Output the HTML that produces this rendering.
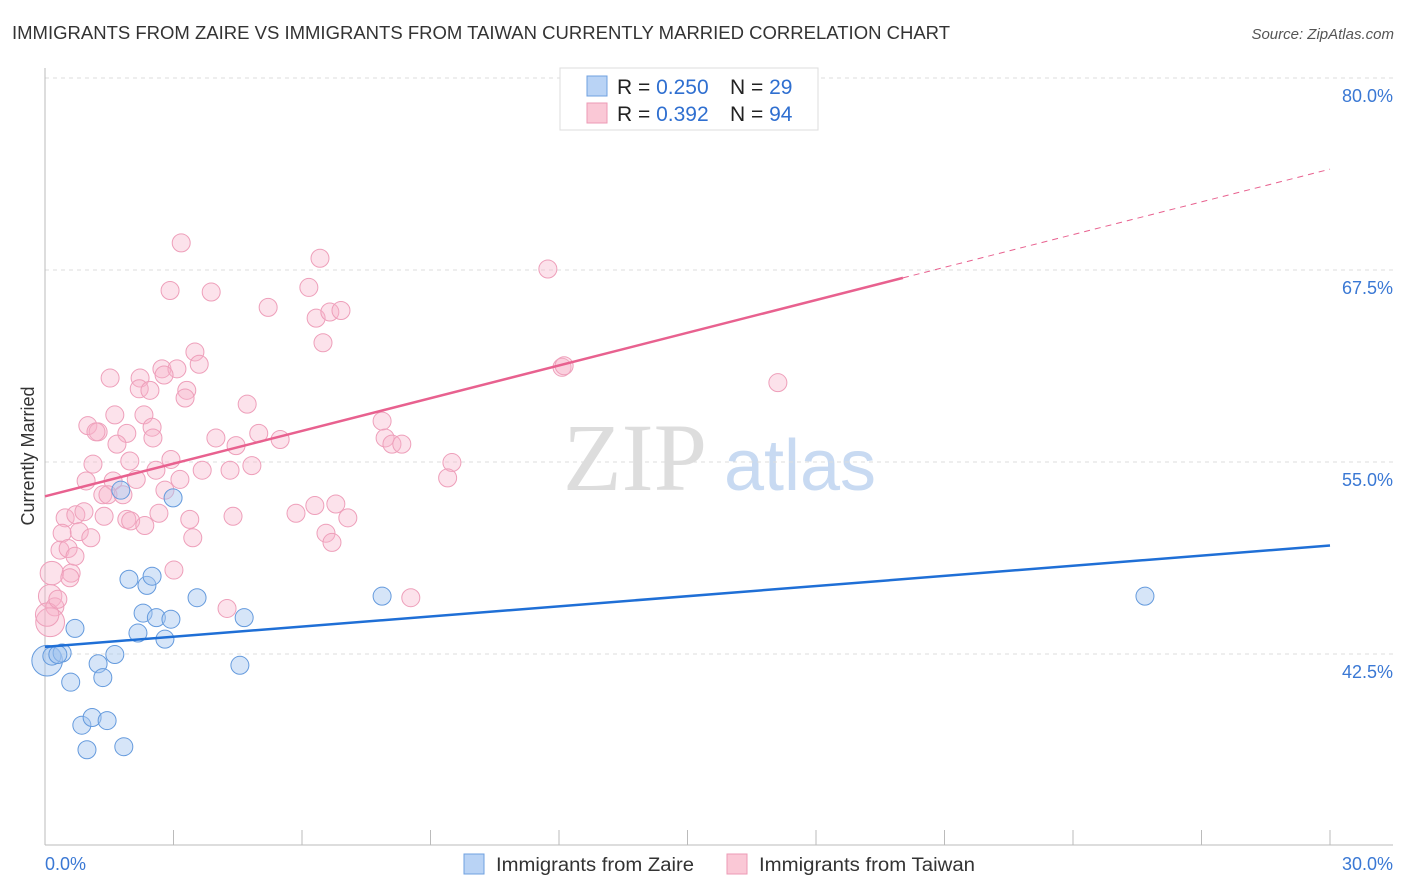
<!DOCTYPE html>
<html><head><meta charset="utf-8"><style>
body{margin:0;background:#fff;font-family:"Liberation Sans",sans-serif}
svg{display:block}
</style></head><body>
<svg id="chart" width="1406" height="892">
<text x="12" y="39" font-size="18" fill="#333" textLength="938" lengthAdjust="spacingAndGlyphs">IMMIGRANTS FROM ZAIRE VS IMMIGRANTS FROM TAIWAN CURRENTLY MARRIED CORRELATION CHART</text>
<text x="1394" y="39" font-size="15" fill="#555" font-style="italic" text-anchor="end">Source: ZipAtlas.com</text>
<text x="0" y="0" transform="translate(34,456) rotate(-90)" font-size="18" fill="#333" text-anchor="middle">Currently Married</text>
<g><text x="635" y="490" font-size="96" fill="#ddd" font-family="Liberation Serif,serif" text-anchor="middle">ZIP</text><text x="800" y="490" font-size="72" fill="#c8daf2" text-anchor="middle">atlas</text></g>
<g id="grid"></g><g id="axes"></g><g id="pts"></g><g id="lines"></g>
<g>
<rect x="560" y="68" width="258" height="62" fill="#fff" stroke="#ddd"/>
<rect x="587" y="76" width="20" height="20" fill="#b9d3f5" stroke="#6fa0e0"/>
<rect x="587" y="103" width="20" height="20" fill="#fac8d6" stroke="#ec9ab5"/>
<text x="617" y="94" font-size="21" fill="#222">R = <tspan fill="#2f6fd0">0.250</tspan></text>
<text x="730" y="94" font-size="21" fill="#222">N = <tspan fill="#2f6fd0">29</tspan></text>
<text x="617" y="121" font-size="21" fill="#222">R = <tspan fill="#2f6fd0"> 0.392</tspan></text>
<text x="730" y="121" font-size="21" fill="#222">N = <tspan fill="#2f6fd0">94</tspan></text>
</g>
<g>
<rect x="464" y="854" width="20" height="20" fill="#b9d3f5" stroke="#6fa0e0"/>
<text x="496" y="871" font-size="19" fill="#333" textLength="198" lengthAdjust="spacingAndGlyphs">Immigrants from Zaire</text>
<rect x="727" y="854" width="20" height="20" fill="#fac8d6" stroke="#ec9ab5"/>
<text x="759" y="871" font-size="19" fill="#333" textLength="216" lengthAdjust="spacingAndGlyphs">Immigrants from Taiwan</text>
</g>
</svg>
<script>
const yTicks=[80,67.5,55,42.5];
const xTickLabels=["0.0%","30.0%"];
const zaireX=[0.05,0.16,0.4,0.7,0.6,1.24,1.35,1.63,0.86,1.1,1.45,0.98,1.84,1.96,2.38,2.5,2.29,2.6,2.94,2.17,2.8,3.55,4.65,4.55,2.99,1.77,7.87,25.68,0.3];
const zaireY=[42.0,42.3,42.5,44.1,40.6,41.8,40.9,42.4,37.8,38.3,38.1,36.2,36.4,47.3,46.9,47.5,45.1,44.8,44.7,43.8,43.4,46.1,44.8,41.7,52.6,53.1,46.2,46.2,42.4];
const zaireW=[1.7,1,1,1,1,1,1,1,1,1,1,1,1,1,1,1,1,1,1,1,1,1,1,1,1,1,1,1,1];
const taiwanX=[3.18,2.92,3.88,5.21,6.42,6.16,6.33,6.65,6.91,6.49,11.74,3.5,3.6,2.73,3.08,2.78,1.52,2.22,3.31,2.2,2.45,3.27,4.72,1.63,2.31,1.0,1.24,1.19,1.91,2.5,2.52,1.68,3.99,4.46,4.99,5.49,7.87,7.94,8.1,8.33,12.07,12.12,17.11,1.12,1.98,2.94,2.59,3.67,4.32,4.83,0.96,1.59,2.13,3.15,2.8,1.35,1.47,1.82,9.5,9.4,0.47,0.72,0.91,1.38,1.91,2.0,2.66,2.33,3.38,4.39,5.86,6.3,6.79,7.07,6.56,6.7,0.4,0.8,1.07,0.35,0.54,3.45,0.16,0.61,0.58,3.01,0.12,0.23,0.12,4.25,8.54,0.05,0.3,0.7];
const taiwanY=[69.2,66.1,66.0,65.0,68.2,66.3,64.3,64.7,64.8,62.7,67.5,62.1,61.3,61.0,61.0,60.6,60.4,60.4,59.6,59.7,59.6,59.1,58.7,58.0,58.0,57.3,56.9,56.9,56.8,57.2,56.5,56.1,56.5,56.0,56.8,56.4,57.6,56.5,56.1,56.1,61.1,61.2,60.1,54.8,55.0,55.1,54.4,54.4,54.4,54.7,53.7,53.7,53.8,53.8,53.1,52.8,52.8,52.8,54.9,53.9,51.3,51.5,51.7,51.4,51.2,51.1,51.6,50.8,51.2,51.4,51.6,52.1,52.2,51.3,50.3,49.7,50.3,50.4,50.0,49.2,49.3,50.0,47.7,47.7,47.4,47.9,46.2,45.5,44.5,45.4,46.1,45.0,46.0,48.8];
const taiwanW=[1,1,1,1,1,1,1,1,1,1,1,1,1,1,1,1,1,1,1,1,1,1,1,1,1,1,1,1,1,1,1,1,1,1,1,1,1,1,1,1,1,1,1,1,1,1,1,1,1,1,1,1,1,1,1,1,1,1,1,1,1,1,1,1,1,1,1,1,1,1,1,1,1,1,1,1,1,1,1,1,1,1,1.3,1,1,1,1.3,1,1.6,1,1,1.3,1,1];
const zaireTrend=[42.9,49.5];
const taiwanTrend=[52.7,74.0];
const taiwanSolidEnd=20.03;
const NS="http://www.w3.org/2000/svg";
const X0=45,X1=1330,xs=v=>X0+(v/30)*(X1-X0);
const ys=v=>77+(80-v)*(192/12.5);
function mk(t,a,p){const e=document.createElementNS(NS,t);for(const k in a)e.setAttribute(k,a[k]);p.appendChild(e);return e;}
const grid=document.getElementById('grid'),axes=document.getElementById('axes'),pts=document.getElementById('pts'),lines=document.getElementById('lines');
yTicks.forEach(v=>{
const l=mk('line',{x1:45,x2:1393,y1:ys(v)+1,y2:ys(v)+1,stroke:'#ddd','stroke-dasharray':'4,4'},grid);


const t=mk('text',{x:1393,y:ys(v)+25,'font-size':18,fill:'#3a78d4','text-anchor':'end'},grid);
t.textContent=v.toFixed(1)+'%';


});
mk('line',{x1:45,x2:45,y1:68,y2:845,stroke:'#bbb'},axes);
mk('line',{x1:45,x2:1393,y1:845,y2:845,stroke:'#bbb'},axes);
for(let i=0;i<=10;i++){const x=xs(i*3);const tk=mk('line',{x1:x,x2:x,y1:830,y2:845,stroke:'#bbb'},axes);

}
const xl0=mk('text',{x:45,y:870,'font-size':18,fill:'#3a78d4'},axes);xl0.textContent=xTickLabels[0];


const xl1=mk('text',{x:1393,y:870,'font-size':18,fill:'#3a78d4','text-anchor':'end'},axes);xl1.textContent=xTickLabels[1];


taiwanX.forEach((v,i)=>{const c=mk('circle',{cx:xs(v),cy:ys(taiwanY[i]),r:9*taiwanW[i],fill:'rgba(246,180,203,0.38)',stroke:'#ee9fba','stroke-width':1},pts);

});
zaireX.forEach((v,i)=>{const c=mk('circle',{cx:xs(v),cy:ys(zaireY[i]),r:9*zaireW[i],fill:'rgba(165,198,240,0.45)',stroke:'#649add','stroke-width':1},pts);

});
const ty=x=>taiwanTrend[0]+(taiwanTrend[1]-taiwanTrend[0])*x/30;
const bl=mk('line',{x1:xs(0),y1:ys(zaireTrend[0]),x2:xs(30),y2:ys(zaireTrend[1]),stroke:'#1f6fd6','stroke-width':2.5},lines);


const pl=mk('line',{x1:xs(0),y1:ys(ty(0)),x2:xs(taiwanSolidEnd),y2:ys(ty(taiwanSolidEnd)),stroke:'#e8618f','stroke-width':2.5},lines);


const pd=mk('line',{x1:xs(taiwanSolidEnd),y1:ys(ty(taiwanSolidEnd)),x2:xs(30),y2:ys(ty(30)),stroke:'#e8618f','stroke-width':1,'stroke-dasharray':'6,5'},lines);


</script>
</body></html>
